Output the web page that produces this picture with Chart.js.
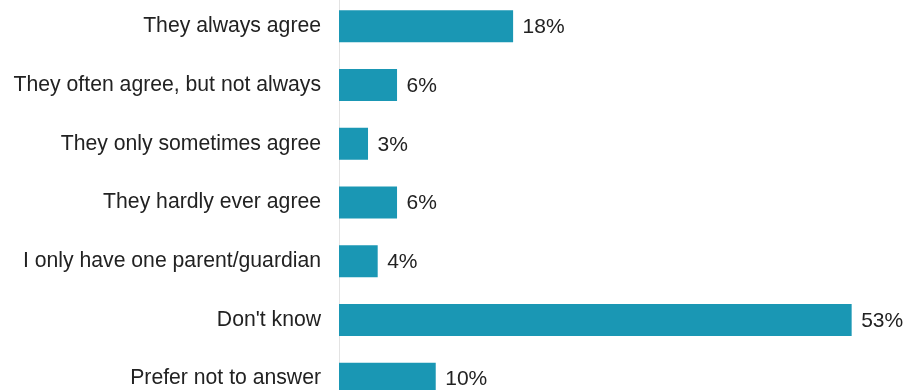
<!DOCTYPE html>
<html>
<head>
<meta charset="utf-8">
<script src="https://cdn.jsdelivr.net/npm/chart.js@4/dist/chart.umd.min.js"></script>
<style>
  html, body { margin: 0; padding: 0; background: #fff; overflow: hidden; width: 906px; height: 390px; }
  #wrap { position: absolute; left: 0; top: -3px; width: 906px; height: 411px; }
</style>
</head>
<body>
<div id="wrap"><canvas id="c"></canvas></div>
<script>
const categories = [
  "They always agree",
  "They often agree, but not always",
  "They only sometimes agree",
  "They hardly ever agree",
  "I only have one parent/guardian",
  "Don't know",
  "Prefer not to answer"
];
const values = [18, 6, 3, 6, 4, 53, 10];
const valueSuffix = "%";

const FONT = "'Liberation Sans', Arial, sans-serif";

const valueLabels = {
  id: 'valueLabels',
  afterDatasetsDraw(chart) {
    const ctx = chart.ctx;
    const meta = chart.getDatasetMeta(0);
    ctx.save();
    ctx.font = "21px " + FONT;
    ctx.fillStyle = "#222222";
    ctx.textAlign = "left";
    ctx.textBaseline = "middle";
    meta.data.forEach((bar, i) => {
      ctx.fillText(values[i] + valueSuffix, bar.x + 9.5, bar.y + 1);
    });
    ctx.restore();
  }
};

new Chart(document.getElementById('c'), {
  type: 'bar',
  data: {
    labels: categories,
    datasets: [{
      data: values,
      backgroundColor: '#1a97b4',
      borderWidth: 0,
      categoryPercentage: 1,
      barPercentage: 0.545
    }]
  },
  options: {
    indexAxis: 'y',
    responsive: true,
    maintainAspectRatio: false,
    animation: false,
    layout: { padding: { left: 0, right: 35, top: 0, bottom: 0 } },
    plugins: { legend: { display: false }, tooltip: { enabled: false } },
    scales: {
      x: { display: false, min: 0, max: 55 },
      y: {
        afterFit(s) { s.width = 339; s.paddingTop = 0; s.paddingBottom = 0; },
        grid: { display: false, drawTicks: false },
        border: { display: true, color: '#e3e3e3', width: 1 },
        ticks: {
          padding: 18,
          color: '#222222',
          font: { family: FONT, size: 21.2 }
        }
      }
    }
  },
  plugins: [valueLabels]
});
</script>
</body>
</html>
